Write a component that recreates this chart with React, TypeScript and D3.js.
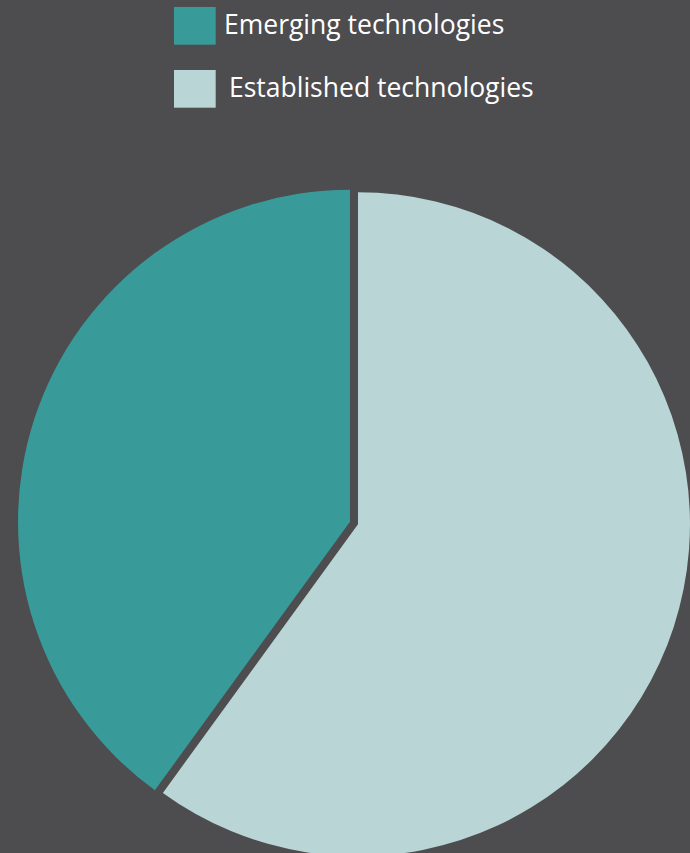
import React from "react";
import * as d3 from "d3";

const categories = ["Emerging technologies", "Established technologies"];
const values = [40, 60];
const colors = ["#389a99", "#b9d5d6"];

const W = 690;
const H = 853;

export default function App() {
  const cx = 354;
  const cy = 523;
  const r = 332;
  const explode = 4.2;
  const pie = d3
    .pie<number>()
    .sort(null)
    .startAngle(0)
    .endAngle(2 * Math.PI)
    .value((d) => d);
  // Established goes clockwise from top; emerging fills the rest
  const order = [1, 0];
  const arcsData = pie(order.map((i) => values[i]));
  const arc = d3.arc<d3.PieArcDatum<number>>().innerRadius(0).outerRadius(r);

  return (
    <svg
      width={W}
      height={H}
      style={{ position: "absolute", left: 0, top: 0, display: "block", background: "#4d4c4f" }}
    >
      <rect x={0} y={0} width={W} height={H} fill="#4d4c4f" />
      <g transform={`translate(${cx},${cy})`}>
        {arcsData.map((a, k) => {
          const idx = order[k];
          const mid = (a.startAngle + a.endAngle) / 2;
          const dx = Math.sin(mid) * explode;
          const dy = -Math.cos(mid) * explode;
          return (
            <path
              key={idx}
              d={arc(a) || ""}
              fill={colors[idx]}
              transform={`translate(${dx},${dy})`}
            />
          );
        })}
      </g>
      {categories.map((c, i) => (
        <g key={c}>
          <rect x={174} y={7 + i * 63} width={41.7} height={37.7} fill={colors[i]} />
          <text
            x={i === 0 ? 224 : 229}
            y={33.5 + i * 63.4}
            fill="#ffffff"
            fontFamily="'Open Sans', sans-serif"
            fontSize={26.5}
          >
            {c}
          </text>
        </g>
      ))}
    </svg>
  );
}
